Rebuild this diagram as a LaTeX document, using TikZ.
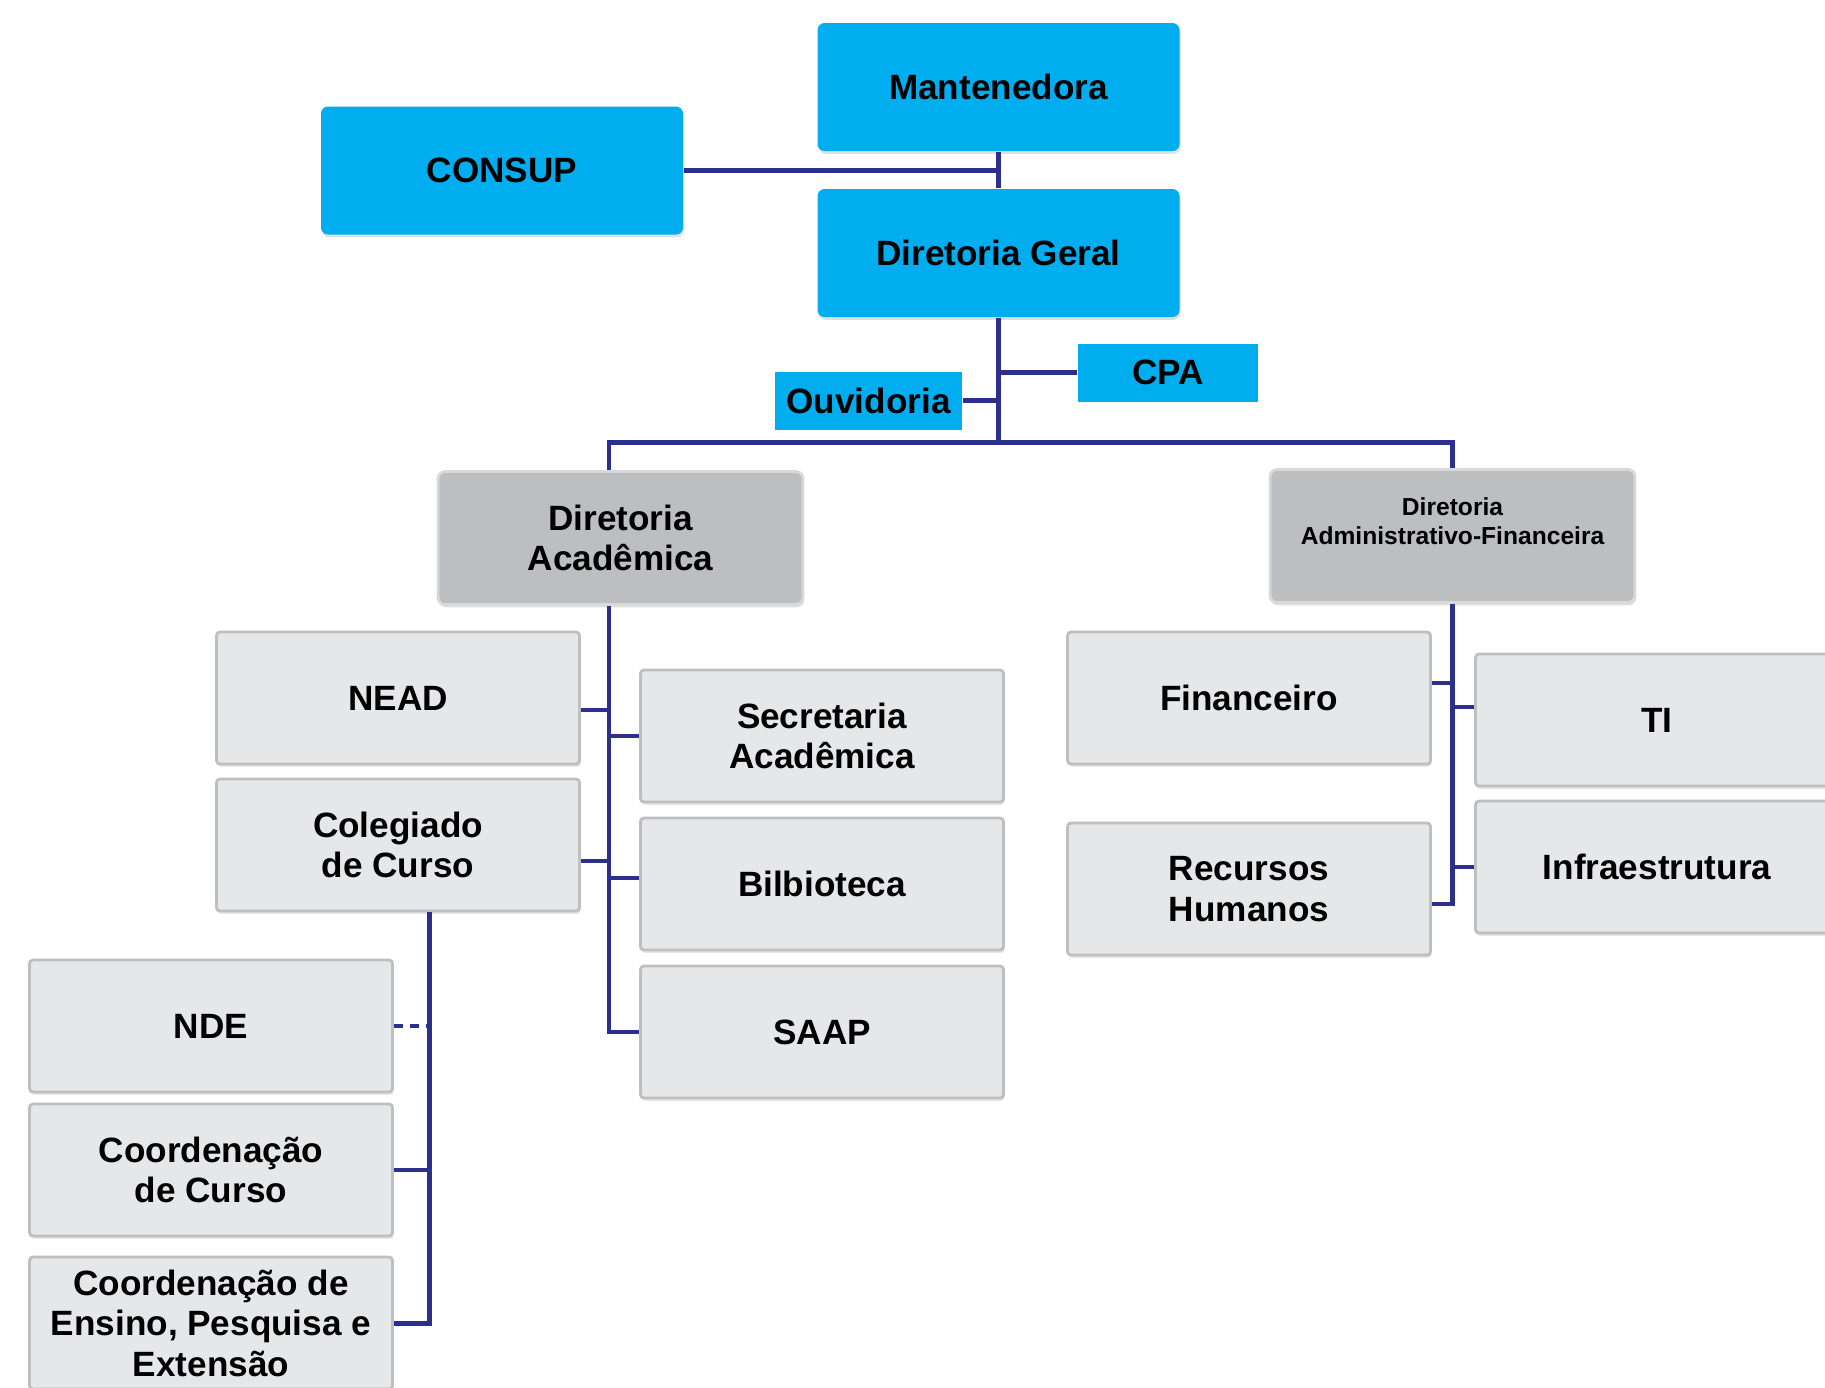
\documentclass[tikz,border=0pt]{standalone}
\usepackage{fontspec}
\setmainfont{Liberation Sans}
\usetikzlibrary{shadows}
\definecolor{azul}{RGB}{0,174,239}
\definecolor{cinza}{RGB}{188,190,192}
\definecolor{cinzaclaro}{RGB}{230,231,232}
\definecolor{azulescuro}{RGB}{44,47,140}
\tikzstyle{topo} = [rectangle, rounded corners=2pt, minimum width=3.62cm, minimum height=1.28cm, align=center, fill=azul, drop shadow={shadow xshift=0.3pt, shadow yshift=-0.8pt, opacity=0.25}, font=\fontsize{10}{11.5}\selectfont\bfseries]
\tikzstyle{pequeno} = [rectangle, minimum width=1.8cm, minimum height=0.58cm, align=center, fill=azul, font=\fontsize{10}{11.5}\selectfont\bfseries]
\tikzstyle{diretoria} = [rectangle, rounded corners=2pt, minimum width=3.65cm, minimum height=1.33cm, align=center, fill=cinza, draw=black!15, line width=0.8pt, drop shadow={shadow xshift=0.3pt, shadow yshift=-0.8pt, opacity=0.25}, font=\fontsize{10}{11.5}\selectfont\bfseries]
\tikzstyle{setor} = [rectangle, rounded corners=1pt, minimum width=3.63cm, minimum height=1.32cm, align=center, fill=cinzaclaro, draw=black!25, line width=0.8pt, drop shadow={shadow xshift=0.3pt, shadow yshift=-0.8pt, opacity=0.2}, font=\fontsize{10}{11.5}\selectfont\bfseries]
\tikzstyle{conector} = [draw=azulescuro, line width=1.4pt]

\begin{document}
\begin{tikzpicture}[node distance=1.48cm]
\clip (0,0) rectangle (18.25,-13.87);

% topo
\node (mant) [topo] at (9.985,-0.87) {Mantenedora};
\node (dg) [topo, node distance=1.66cm, below of=mant] {Diretoria Geral};
\node (consup) [topo] at (5.02,-1.705) {CONSUP};
\node (cpa) [pequeno] at (11.68,-3.725) {CPA};
\node (ouv) [pequeno] at (8.685,-4.005) {Ouvidoria};

% diretorias
\node (da) [diretoria] at (6.205,-5.38) {Diretoria\\Acadêmica};
\node (daf) [diretoria, text depth=0.3cm, font=\fontsize{7}{8.5}\selectfont\bfseries] at (14.525,-5.36) {Diretoria\\Administrativo-Financeira};

% setores academicos
\node (nead) [setor] at (3.98,-6.98) {NEAD};
\node (col) [setor, node distance=1.47cm, below of=nead] {Colegiado\\de Curso};
\node (sec) [setor] at (8.22,-7.36) {Secretaria\\Acadêmica};
\node (bib) [setor, below of=sec] {Bilbioteca};
\node (saap) [setor, below of=bib] {SAAP};
\node (nde) [setor] at (2.11,-10.26) {NDE};
\node (cc) [setor, node distance=1.44cm, below of=nde] {Coordenação\\de Curso};
\node (ce) [setor, node distance=1.53cm, below of=cc] {Coordenação de\\Ensino, Pesquisa e\\Extensão};

% setores administrativos
\node (fin) [setor] at (12.49,-6.98) {Financeiro};
\node (rh) [setor, node distance=1.91cm, below of=fin] {Recursos\\Humanos};
\node (ti) [setor] at (16.57,-7.20) {TI};
\node (infra) [setor, node distance=1.47cm, below of=ti] {Infraestrutura};

% ligacoes do topo
\draw [conector] (mant) -- (dg);
\draw [conector] (consup.east) -- (consup.east -| mant.south);
\draw [conector] (dg.south) -- ++(0,-1.25) coordinate (bus);
\draw [conector] (cpa.west) -- (cpa.west -| dg.south);
\draw [conector] (ouv.east) -- (ouv.east -| dg.south);
\draw [conector] ([xshift=-0.115cm]da.north) |- (bus) -| (daf.north);

% diretoria academica
\draw [conector] ([xshift=-0.115cm]da.south) coordinate (datr) |- (saap.west);
\draw [conector] ([yshift=-0.12cm]nead.east) -- ([yshift=-0.12cm]nead.east -| datr);
\draw [conector] ([yshift=-0.16cm]col.east) -- ([yshift=-0.16cm]col.east -| datr);
\draw [conector] (sec.west) -- (sec.west -| datr);
\draw [conector] ([yshift=0.06cm]bib.west) -- ([yshift=0.06cm]bib.west -| datr);

% colegiado
\draw [conector] ([xshift=0.315cm]col.south) coordinate (coltr) |- (ce.east);
\draw [conector, dash pattern=on 2.5pt off 2pt] (nde.east) -- (nde.east -| coltr);
\draw [conector] (cc.east) -- (cc.east -| coltr);

% diretoria administrativo-financeira
\draw [conector] (daf.south) |- ([yshift=-0.15cm]rh.east);
\draw [conector] ([yshift=0.15cm]fin.east) -- ([yshift=0.15cm]fin.east -| daf.south);
\draw [conector] ([yshift=0.13cm]ti.west) -- ([yshift=0.13cm]ti.west -| daf.south);
\draw [conector] (infra.west) -- (infra.west -| daf.south);

\end{tikzpicture}
\end{document}
